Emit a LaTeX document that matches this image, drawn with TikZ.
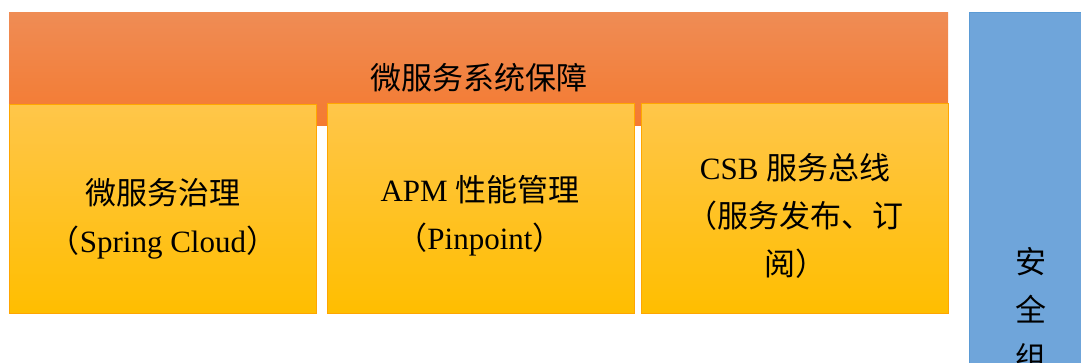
\documentclass[tikz,border=0pt]{standalone}
\usepackage{fontspec}
\setmainfont{Liberation Serif}
\newfontfamily\cjk{Noto Sans CJK SC}
\begin{document}
\begin{tikzpicture}[x=1pt,y=-1pt,
  txt/.style={font=\fontsize{31}{48}\selectfont, align=center, text=black, inner sep=0pt},
  ybox/.style={draw=orange!70!yellow, line width=0.8pt, top color=ybtop, bottom color=ybbot}]
\definecolor{ortop}{HTML}{EF8C55}
\definecolor{orbot}{HTML}{F47A30}
\definecolor{ybtop}{HTML}{FFC64A}
\definecolor{ybbot}{HTML}{FFBE00}
\definecolor{bl}{HTML}{6FA5DA}
\definecolor{blb}{HTML}{5B9BD5}
\useasboundingbox (0,0) rectangle (1081,362);
\clip (0,0) rectangle (1081,362);
\shade[top color=ortop, bottom color=orbot] (9,12) rectangle (948,125);
\path[ybox] (9,104) rectangle (316,313);
\path[ybox] (327,103) rectangle (634,313);
\path[ybox] (641,103) rectangle (948,313);
\draw[blb, fill=bl, line width=0.8pt] (969,12) rectangle (1090,370);
\node[txt] (title) at (479,78) {\cjk 微服务系统保障};
\node[txt] (a) at (163,219) {{\cjk 微服务治理}\\{\cjk （}Spring Cloud{\cjk ）}};
\node[txt] (b) at (480,216) {APM {\cjk 性能管理}\\{\cjk （}Pinpoint{\cjk ）}};
\node[txt] (c) at (795,216) {CSB {\cjk 服务总线}\\{\cjk （服务发布、订}\\{\cjk 阅）}};
\node[txt, anchor=north] (s) at (1031,247) {{\cjk 安}\\{\cjk 全}\\{\cjk 组}};
\end{tikzpicture}
\end{document}
